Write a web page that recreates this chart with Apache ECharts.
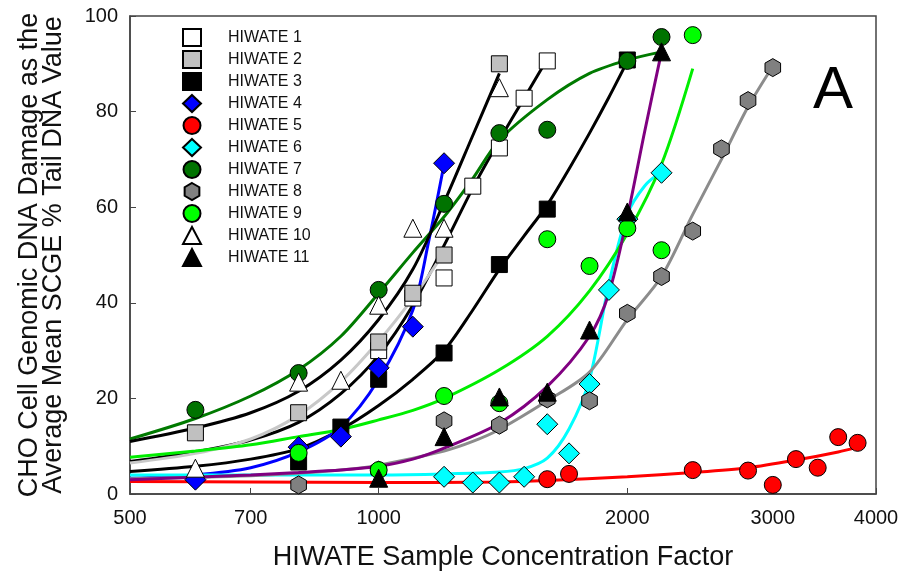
<!DOCTYPE html>
<html>
<head>
<meta charset="utf-8">
<script src="https://cdn.jsdelivr.net/npm/echarts@6/dist/echarts.min.js"></script>
<style>
  html, body { margin: 0; padding: 0; background: #fff; }
  #chart { width: 903px; height: 580px; }
</style>
</head>
<body>
<div id="chart"></div>
<script>
// measured points [concentration factor, % tail DNA]
const hiwate1 = [[1000, 30], [1100, 41], [1200, 45.2], [1300, 64.4], [1400, 72.4], [1500, 82.8], [1600, 90.6]];
const hiwate2 = [[600, 12.8], [800, 17], [1000, 31.8], [1100, 42], [1200, 50], [1400, 90]];
const hiwate3 = [[800, 6.7], [900, 14], [1000, 24], [1200, 29.5], [1400, 48], [1600, 59.6], [2000, 90.8]];
const hiwate4 = [[600, 3], [800, 9.8], [900, 12], [1000, 26.4], [1100, 35], [1200, 69.2]];
const hiwate5 = [[1600, 3.1], [1700, 4.2], [2400, 5], [2800, 4.9], [3000, 1.9], [3200, 7.3], [3400, 5.5], [3600, 11.9], [3800, 10.7]];
const hiwate6 = [[1200, 3.6], [1300, 2.4], [1400, 2.4], [1500, 3.6], [1600, 14.6], [1700, 8.5], [1800, 23], [1900, 42.7], [2000, 57.5], [2200, 67.2]];
const hiwate7 = [[600, 17.6], [800, 25.3], [1000, 42.7], [1200, 60.7], [1400, 75.5], [1600, 76.2], [2000, 90.6], [2200, 95.6]];
const hiwate8 = [[800, 1.9], [1000, 5], [1200, 15.3], [1400, 14.4], [1600, 19.9], [1800, 19.5], [2000, 37.8], [2200, 45.5], [2400, 55], [2600, 72.2], [2800, 82.3], [3000, 89.2]];
const hiwate9 = [[800, 8.6], [1000, 5], [1200, 20.5], [1400, 19], [1600, 53.3], [1800, 47.7], [2000, 55.6], [2200, 51], [2400, 96]];
const hiwate10 = [[600, 5.4], [800, 23.4], [900, 23.8], [1000, 39.5], [1100, 55.6], [1200, 55.6], [1400, 85]];
const hiwate11 = [[1000, 3.3], [1200, 12], [1400, 20.3], [1600, 21.3], [1800, 34.3], [2000, 59], [2200, 92.5]];

// fitted curves
const fit1 = [[500, 6.8], [600, 8.8], [700, 11.3], [800, 15], [900, 21], [1000, 29], [1100, 39.5], [1200, 52], [1300, 64], [1400, 74], [1500, 82.8], [1600, 91]];
const fit2 = [[500, 6.5], [600, 8.5], [700, 11.5], [800, 16.5], [900, 23.5], [1000, 32], [1100, 41], [1200, 50.5]];
const fit3 = [[500, 4.7], [600, 5.8], [700, 7.3], [800, 9.5], [900, 13.5], [1000, 18.5], [1100, 24], [1200, 30], [1300, 38.5], [1400, 47], [1500, 54], [1600, 60.5], [1700, 68], [1800, 75.5], [1900, 83], [2000, 90.5]];
const fit4 = [[500, 3.3], [600, 4], [700, 5.5], [800, 8.8], [900, 14], [1000, 24], [1100, 38.5], [1150, 53], [1200, 69]];
const fit5 = [[500, 2.6], [700, 2.5], [1000, 2.4], [1400, 2.5], [1600, 2.8], [2000, 3.6], [2400, 4.5], [2800, 5.5], [3200, 7.1], [3600, 8.8], [3800, 9.8]];
const fit6 = [[500, 4], [800, 4], [1000, 4], [1200, 4.2], [1400, 4.6], [1500, 5.3], [1600, 7.5], [1700, 13.6], [1800, 24], [1900, 44], [2000, 58.5], [2100, 64.5], [2200, 67.4]];
const fit7 = [[500, 11.5], [600, 15.8], [700, 20.5], [800, 26], [900, 33], [1000, 42], [1100, 50.5], [1200, 58], [1300, 66], [1400, 74], [1600, 82.5], [1800, 88], [2000, 90.8], [2200, 92.5]];
const fit8 = [[500, 3.2], [700, 3.8], [900, 5], [1000, 6], [1200, 9], [1300, 11], [1400, 13.5], [1600, 19.5], [1800, 25.5], [2000, 36.5], [2200, 45.5], [2400, 58.5], [2600, 70], [2800, 81], [3000, 89.5]];
const fit9 = [[500, 7.7], [600, 9], [700, 10.3], [800, 12], [900, 13.5], [1000, 15.5], [1100, 17.5], [1200, 20], [1400, 26], [1600, 33], [1800, 42.5], [2000, 54.5], [2200, 69], [2400, 89]];
const fit10 = [[500, 11], [600, 13.8], [700, 17], [800, 21.5], [900, 28], [1000, 36.5], [1100, 47], [1200, 61], [1300, 75], [1400, 88]];
const fit11 = [[500, 3], [600, 3.5], [700, 4], [800, 4.5], [900, 5], [1000, 5.8], [1100, 7.3], [1200, 9.6], [1400, 14.8], [1600, 22.5], [1800, 33], [1900, 42], [2000, 58], [2100, 76], [2200, 92.5]];

const xTicks = [500, 700, 1000, 2000, 3000, 4000];

const hexagon = 'path://M0,-1L0.866,-0.5L0.866,0.5L0,1L-0.866,0.5L-0.866,-0.5Z';
const font = 'Liberation Sans, Arial, sans-serif';

// name, points, symbol, size, fill, fit curve, curve colour
const groups = [
    ['HIWATE 1', hiwate1, 'rect', 16, '#ffffff', fit1, '#000000'],
    ['HIWATE 2', hiwate2, 'rect', 16, '#c0c0c0', fit2, '#c8c8c8'],
    ['HIWATE 3', hiwate3, 'rect', 16, '#000000', fit3, '#000000'],
    ['HIWATE 4', hiwate4, 'diamond', 21, '#0000ff', fit4, '#0000ff'],
    ['HIWATE 5', hiwate5, 'circle', 17, '#ff0000', fit5, '#ff0000'],
    ['HIWATE 6', hiwate6, 'diamond', 21, '#00ffff', fit6, '#00ffff'],
    ['HIWATE 7', hiwate7, 'circle', 17, '#007300', fit7, '#007a00'],
    ['HIWATE 8', hiwate8, hexagon, 18, '#808080', fit8, '#8c8c8c'],
    ['HIWATE 9', hiwate9, 'circle', 17, '#00ff00', fit9, '#00ee00'],
    ['HIWATE 10', hiwate10, 'triangle', 18, '#ffffff', fit10, '#000000'],
    ['HIWATE 11', hiwate11, 'triangle', 18, '#000000', fit11, '#800080'],
];

const series = [];
groups.forEach(([name, pts, sym, size, fill, fit, lineColor], i) => {
    series.push({
        name, type: 'scatter', data: pts,
        symbol: sym, symbolSize: size, symbolKeepAspect: true,
        itemStyle: { color: fill, borderColor: '#000', borderWidth: 1, opacity: 1 },
        z: 3,
    });
    series.push({
        name: 'fit' + (i + 1), type: 'line', data: fit,
        showSymbol: false, symbol: 'none', smooth: 0.3,
        lineStyle: { color: lineColor, width: 3 },
        z: 3,
    });
});

const chart = echarts.init(document.getElementById('chart'));
chart.setOption({
    animation: false,
    title: {
        text: 'A', left: 808, top: 56,
        textStyle: { fontSize: 60, fontWeight: 'normal', color: '#000', fontFamily: font },
    },
    legend: {
        orient: 'vertical', left: 177, top: 23,
        data: groups.map(g => g[0]),
        itemWidth: 18, itemHeight: 17, itemGap: 3,
        textStyle: { fontSize: 16, color: '#111', fontFamily: font, padding: [0, 0, 0, 22] },
        selectedMode: false,
    },
    grid: {
        left: 130, right: 27, top: 16, bottom: 86,
        show: true, borderColor: '#444', borderWidth: 1.5, backgroundColor: 'transparent',
    },
    xAxis: {
        type: 'log', logBase: 10, min: 500, max: 4000,
        name: 'HIWATE Sample Concentration Factor',
        nameLocation: 'middle', nameGap: 50,
        nameTextStyle: { fontSize: 27, color: '#111', fontFamily: font },
        axisLine: { lineStyle: { color: '#444', width: 1.5 } },
        axisTick: { inside: true, length: 6, customValues: xTicks, lineStyle: { color: '#444' } },
        axisLabel: { customValues: xTicks, fontSize: 20, color: '#111', margin: 14, fontFamily: font,
            formatter: v => String(Math.round(v)) },
        minorTick: { show: false },
        splitLine: { show: false },
    },
    yAxis: {
        type: 'value', min: 0, max: 100, interval: 20,
        name: 'CHO Cell Genomic DNA Damage as the\nAverage Mean SCGE % Tail DNA Value',
        nameLocation: 'middle', nameRotate: 90, nameGap: 64,
        nameTextStyle: { fontSize: 27, lineHeight: 24, color: '#111', fontFamily: font },
        axisLine: { show: true, lineStyle: { color: '#444', width: 1.5 } },
        axisTick: { show: true, inside: true, length: 6, lineStyle: { color: '#444' } },
        axisLabel: { fontSize: 20, color: '#111', margin: 12, fontFamily: font },
        splitLine: { show: false },
    },
    series,
});
</script>
</body>
</html>
